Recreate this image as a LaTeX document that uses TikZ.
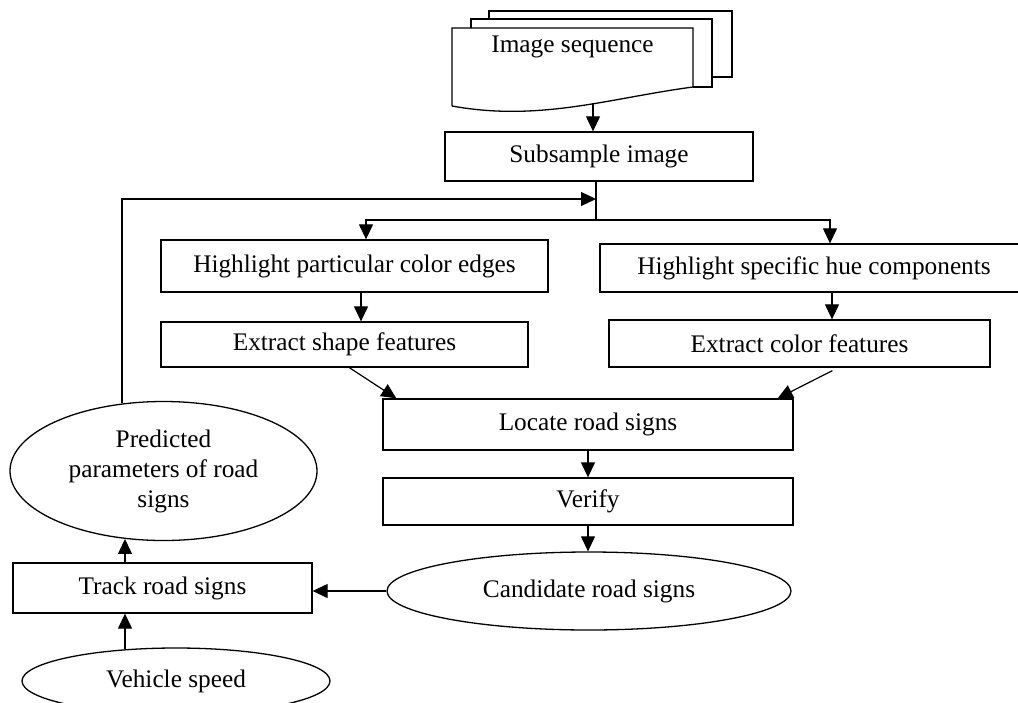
\documentclass[tikz,border=0pt]{standalone}
\usepackage{fontspec}
\setmainfont{Liberation Serif}
\usetikzlibrary{shapes.geometric,arrows.meta}
\begin{document}
\begin{tikzpicture}[x=1pt,y=-1pt,
  font=\fontsize{25.3}{30}\selectfont,
  box/.style={draw,line width=1.3pt,inner sep=0pt,rectangle},
  ell/.style={draw,line width=1.3pt,inner sep=0pt,ellipse,align=center},
  arr/.style={line width=1.2pt,-{Triangle[length=15pt,width=14pt]}},
  ln/.style={line width=1.2pt}]
\useasboundingbox (0,0) rectangle (1018,702);
\clip (0,0) rectangle (1018,702);
% document stack
\draw[line width=1.3pt] (489,19) -- (489,11) -- (732,11) -- (732,77) -- (712,77);
\draw[line width=1.3pt] (471,28) -- (471,19) -- (712,19) -- (712,87) -- (693,87);
\draw[line width=1.3pt] (452,106) -- (452,28) -- (693,28) -- (693,87)
   .. controls (610,98) and (540,122) .. (452,106);
\node (img) at (572.5,47) {Image sequence};
\coordinate (docb) at (593,103);
% boxes
\node[box,minimum width=308pt,minimum height=49pt] (sub) at (599,156.5) {Subsample image};
\node[box,minimum width=387pt,minimum height=52pt] (hl1) at (354.5,266) {Highlight particular color edges};
\node[box,minimum width=428pt,minimum height=48pt] (hl2) at (814,268) {Highlight specific hue components};
\node[box,minimum width=367pt,minimum height=45pt] (es) at (344.5,344.5) {Extract shape features};
\node[box,minimum width=381pt,minimum height=47pt] (ec) at (799.5,343.5) {Extract color features};
\node[box,minimum width=410pt,minimum height=51pt] (loc) at (588,424.5) {Locate road signs};
\node[box,minimum width=410pt,minimum height=47pt] (ver) at (588,501.5) {Verify};
\node[ell,minimum width=404pt,minimum height=78pt] (cand) at (589,591) {Candidate road signs};
\node[box,minimum width=299pt,minimum height=50pt] (track) at (162.5,588) {Track road signs};
\node[ell,minimum width=307pt,minimum height=139pt] (pred) at (163.5,471) {Predicted\\parameters of road\\signs};
\node[ell,minimum width=308pt,minimum height=66pt] (vs) at (176,681) {Vehicle speed};
% junction coordinates
\coordinate (fb) at (596,199);
\coordinate (j) at (596,220);
\coordinate (b1) at (366,220);
\coordinate (b2) at (830,220);
% connectors
\draw[arr] (docb) -- (docb |- sub.north);
\draw[ln] (sub.south -| j) -- (j);
\draw[arr] (j) -- (b1) -- (b1 |- hl1.north);
\draw[arr] (j) -- (b2) -- (b2 |- hl2.north);
\draw[arr] ([xshift=6.5pt]hl1.south) -- ([xshift=6.5pt]hl1.south |- es.north);
\draw[arr] ([xshift=18pt]hl2.south) -- ([xshift=18pt]hl2.south |- ec.north);
\draw[arr] ([xshift=189pt]es.south west) -- ([xshift=14pt]loc.north west);
\draw[arr] ([xshift=224pt,yshift=-3pt]ec.south west) -- ([xshift=-16pt]loc.north east);
\draw[arr] (loc.south) -- (ver.north);
\draw[arr] (ver.south) -- (ver.south |- cand.north);
\draw[arr] (cand.west) -- (cand.west -| track.east);
\draw[arr] ([xshift=-37.5pt]track.north) -- ([xshift=-38.5pt,yshift=2.2pt]pred.south);
\draw[arr] ([xshift=-51pt,yshift=-1.9pt]vs.north) -- ([xshift=-37.5pt]track.south);
\draw[arr] ([xshift=-41.5pt,yshift=-2.6pt]pred.north) |- (fb);
\end{tikzpicture}
\end{document}
